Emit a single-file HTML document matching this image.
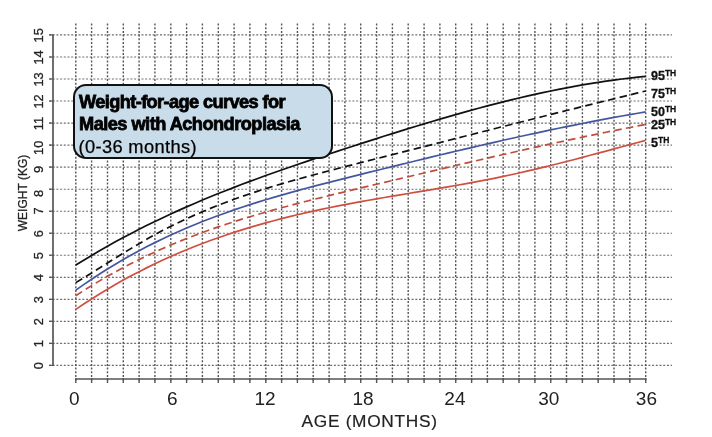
<!DOCTYPE html>
<html><head><meta charset="utf-8"><style>
html,body{margin:0;padding:0;background:#fff;width:712px;height:437px;overflow:hidden}
#wrap{position:absolute;left:0;top:0;width:712px;height:437px;filter:blur(0.4px)}
svg{position:absolute;left:0;top:0}
.g{stroke:#6e6e6e;stroke-width:1.15;stroke-dasharray:2 1.7;fill:none}
.gv{stroke:#555;stroke-width:1.4}
.ax{stroke:#555;stroke-width:1.7;fill:none}
.tk{stroke:#555;stroke-width:1.3}
.c{fill:none;stroke-width:1.7}
text{font-family:"Liberation Sans",sans-serif;fill:#222}
.yl{font-size:12.8px;text-anchor:middle;stroke:#222;stroke-width:0.3px}
.xl{font-size:19px;text-anchor:middle}
#box{position:absolute;left:73px;top:84px;width:256px;height:71px;border:2px solid #111;border-radius:13px;background:#c9dcea;font-family:"Liberation Sans",sans-serif;color:#000}
#box .b{position:absolute;left:4px;font-weight:bold;font-size:18.2px;line-height:20px;white-space:nowrap;letter-spacing:-0.6px;-webkit-text-stroke:0.8px #000}
#box .r{position:absolute;left:3.5px;font-size:18.3px;line-height:20px;white-space:nowrap;letter-spacing:0.35px;-webkit-text-stroke:0.25px #000}
.lab{position:absolute;font-family:"Liberation Sans",sans-serif;font-weight:bold;font-size:12.5px;color:#111;white-space:nowrap;-webkit-text-stroke:0.3px #111}
.lab sup{font-size:8.5px;vertical-align:0;position:relative;top:-4px}
</style></head><body><div id="wrap">
<svg width="712" height="437" viewBox="0 0 712 437">
<line x1="49" y1="365.4" x2="672" y2="365.4" class="g"/>
<line x1="49" y1="343.4" x2="672" y2="343.4" class="g"/>
<line x1="49" y1="321.3" x2="672" y2="321.3" class="g"/>
<line x1="49" y1="299.3" x2="672" y2="299.3" class="g"/>
<line x1="49" y1="277.3" x2="672" y2="277.3" class="g"/>
<line x1="49" y1="255.2" x2="672" y2="255.2" class="g"/>
<line x1="49" y1="233.2" x2="672" y2="233.2" class="g"/>
<line x1="49" y1="211.2" x2="672" y2="211.2" class="g"/>
<line x1="49" y1="189.2" x2="672" y2="189.2" class="g"/>
<line x1="49" y1="167.1" x2="672" y2="167.1" class="g"/>
<line x1="49" y1="145.1" x2="672" y2="145.1" class="g"/>
<line x1="49" y1="123.1" x2="672" y2="123.1" class="g"/>
<line x1="49" y1="101.0" x2="672" y2="101.0" class="g"/>
<line x1="49" y1="79.0" x2="672" y2="79.0" class="g"/>
<line x1="49" y1="57.0" x2="672" y2="57.0" class="g"/>
<line x1="49" y1="34.9" x2="672" y2="34.9" class="g"/>
<line x1="75.8" y1="23.5" x2="75.8" y2="383" class="g gv"/>
<line x1="91.6" y1="23.5" x2="91.6" y2="383" class="g gv"/>
<line x1="107.5" y1="23.5" x2="107.5" y2="383" class="g gv"/>
<line x1="123.3" y1="23.5" x2="123.3" y2="383" class="g gv"/>
<line x1="139.1" y1="23.5" x2="139.1" y2="383" class="g gv"/>
<line x1="154.9" y1="23.5" x2="154.9" y2="383" class="g gv"/>
<line x1="170.8" y1="23.5" x2="170.8" y2="383" class="g gv"/>
<line x1="186.6" y1="23.5" x2="186.6" y2="383" class="g gv"/>
<line x1="202.4" y1="23.5" x2="202.4" y2="383" class="g gv"/>
<line x1="218.3" y1="23.5" x2="218.3" y2="383" class="g gv"/>
<line x1="234.1" y1="23.5" x2="234.1" y2="383" class="g gv"/>
<line x1="249.9" y1="23.5" x2="249.9" y2="383" class="g gv"/>
<line x1="265.8" y1="23.5" x2="265.8" y2="383" class="g gv"/>
<line x1="281.6" y1="23.5" x2="281.6" y2="383" class="g gv"/>
<line x1="297.4" y1="23.5" x2="297.4" y2="383" class="g gv"/>
<line x1="313.2" y1="23.5" x2="313.2" y2="383" class="g gv"/>
<line x1="329.1" y1="23.5" x2="329.1" y2="383" class="g gv"/>
<line x1="344.9" y1="23.5" x2="344.9" y2="383" class="g gv"/>
<line x1="360.7" y1="23.5" x2="360.7" y2="383" class="g gv"/>
<line x1="376.6" y1="23.5" x2="376.6" y2="383" class="g gv"/>
<line x1="392.4" y1="23.5" x2="392.4" y2="383" class="g gv"/>
<line x1="408.2" y1="23.5" x2="408.2" y2="383" class="g gv"/>
<line x1="424.1" y1="23.5" x2="424.1" y2="383" class="g gv"/>
<line x1="439.9" y1="23.5" x2="439.9" y2="383" class="g gv"/>
<line x1="455.7" y1="23.5" x2="455.7" y2="383" class="g gv"/>
<line x1="471.6" y1="23.5" x2="471.6" y2="383" class="g gv"/>
<line x1="487.4" y1="23.5" x2="487.4" y2="383" class="g gv"/>
<line x1="503.2" y1="23.5" x2="503.2" y2="383" class="g gv"/>
<line x1="519.0" y1="23.5" x2="519.0" y2="383" class="g gv"/>
<line x1="534.9" y1="23.5" x2="534.9" y2="383" class="g gv"/>
<line x1="550.7" y1="23.5" x2="550.7" y2="383" class="g gv"/>
<line x1="566.5" y1="23.5" x2="566.5" y2="383" class="g gv"/>
<line x1="582.4" y1="23.5" x2="582.4" y2="383" class="g gv"/>
<line x1="598.2" y1="23.5" x2="598.2" y2="383" class="g gv"/>
<line x1="614.0" y1="23.5" x2="614.0" y2="383" class="g gv"/>
<line x1="629.8" y1="23.5" x2="629.8" y2="383" class="g gv"/>
<line x1="645.7" y1="23.5" x2="645.7" y2="383" class="g gv"/>
<line x1="53" y1="34.5" x2="53" y2="366" class="ax"/>
<line x1="49.3" y1="365.4" x2="53" y2="365.4" class="tk"/>
<line x1="49.3" y1="343.4" x2="53" y2="343.4" class="tk"/>
<line x1="49.3" y1="321.3" x2="53" y2="321.3" class="tk"/>
<line x1="49.3" y1="299.3" x2="53" y2="299.3" class="tk"/>
<line x1="49.3" y1="277.3" x2="53" y2="277.3" class="tk"/>
<line x1="49.3" y1="255.2" x2="53" y2="255.2" class="tk"/>
<line x1="49.3" y1="233.2" x2="53" y2="233.2" class="tk"/>
<line x1="49.3" y1="211.2" x2="53" y2="211.2" class="tk"/>
<line x1="49.3" y1="189.2" x2="53" y2="189.2" class="tk"/>
<line x1="49.3" y1="167.1" x2="53" y2="167.1" class="tk"/>
<line x1="49.3" y1="145.1" x2="53" y2="145.1" class="tk"/>
<line x1="49.3" y1="123.1" x2="53" y2="123.1" class="tk"/>
<line x1="49.3" y1="101.0" x2="53" y2="101.0" class="tk"/>
<line x1="49.3" y1="79.0" x2="53" y2="79.0" class="tk"/>
<line x1="49.3" y1="57.0" x2="53" y2="57.0" class="tk"/>
<line x1="49.3" y1="34.9" x2="53" y2="34.9" class="tk"/>
<line x1="75.8" y1="378" x2="75.8" y2="383" class="tk"/>
<line x1="91.6" y1="378" x2="91.6" y2="383" class="tk"/>
<line x1="107.5" y1="378" x2="107.5" y2="383" class="tk"/>
<line x1="123.3" y1="378" x2="123.3" y2="383" class="tk"/>
<line x1="139.1" y1="378" x2="139.1" y2="383" class="tk"/>
<line x1="154.9" y1="378" x2="154.9" y2="383" class="tk"/>
<line x1="170.8" y1="378" x2="170.8" y2="383" class="tk"/>
<line x1="186.6" y1="378" x2="186.6" y2="383" class="tk"/>
<line x1="202.4" y1="378" x2="202.4" y2="383" class="tk"/>
<line x1="218.3" y1="378" x2="218.3" y2="383" class="tk"/>
<line x1="234.1" y1="378" x2="234.1" y2="383" class="tk"/>
<line x1="249.9" y1="378" x2="249.9" y2="383" class="tk"/>
<line x1="265.8" y1="378" x2="265.8" y2="383" class="tk"/>
<line x1="281.6" y1="378" x2="281.6" y2="383" class="tk"/>
<line x1="297.4" y1="378" x2="297.4" y2="383" class="tk"/>
<line x1="313.2" y1="378" x2="313.2" y2="383" class="tk"/>
<line x1="329.1" y1="378" x2="329.1" y2="383" class="tk"/>
<line x1="344.9" y1="378" x2="344.9" y2="383" class="tk"/>
<line x1="360.7" y1="378" x2="360.7" y2="383" class="tk"/>
<line x1="376.6" y1="378" x2="376.6" y2="383" class="tk"/>
<line x1="392.4" y1="378" x2="392.4" y2="383" class="tk"/>
<line x1="408.2" y1="378" x2="408.2" y2="383" class="tk"/>
<line x1="424.1" y1="378" x2="424.1" y2="383" class="tk"/>
<line x1="439.9" y1="378" x2="439.9" y2="383" class="tk"/>
<line x1="455.7" y1="378" x2="455.7" y2="383" class="tk"/>
<line x1="471.6" y1="378" x2="471.6" y2="383" class="tk"/>
<line x1="487.4" y1="378" x2="487.4" y2="383" class="tk"/>
<line x1="503.2" y1="378" x2="503.2" y2="383" class="tk"/>
<line x1="519.0" y1="378" x2="519.0" y2="383" class="tk"/>
<line x1="534.9" y1="378" x2="534.9" y2="383" class="tk"/>
<line x1="550.7" y1="378" x2="550.7" y2="383" class="tk"/>
<line x1="566.5" y1="378" x2="566.5" y2="383" class="tk"/>
<line x1="582.4" y1="378" x2="582.4" y2="383" class="tk"/>
<line x1="598.2" y1="378" x2="598.2" y2="383" class="tk"/>
<line x1="614.0" y1="378" x2="614.0" y2="383" class="tk"/>
<line x1="629.8" y1="378" x2="629.8" y2="383" class="tk"/>
<line x1="645.7" y1="378" x2="645.7" y2="383" class="tk"/>
<line x1="75.1" y1="379" x2="646.4" y2="379" class="ax"/>
<text transform="translate(43.0 365.8) rotate(-90)" class="yl">0</text>
<text transform="translate(43.0 343.8) rotate(-90)" class="yl">1</text>
<text transform="translate(43.0 321.7) rotate(-90)" class="yl">2</text>
<text transform="translate(43.0 299.7) rotate(-90)" class="yl">3</text>
<text transform="translate(43.0 277.7) rotate(-90)" class="yl">4</text>
<text transform="translate(43.0 255.6) rotate(-90)" class="yl">5</text>
<text transform="translate(43.0 233.6) rotate(-90)" class="yl">6</text>
<text transform="translate(43.0 210.9) rotate(-90)" class="yl">7</text>
<text transform="translate(43.0 193.5) rotate(-90)" class="yl">8</text>
<text transform="translate(43.0 169.5) rotate(-90)" class="yl">9</text>
<text transform="translate(43.0 147.8) rotate(-90)" class="yl">10</text>
<text transform="translate(43.0 123.5) rotate(-90)" class="yl">11</text>
<text transform="translate(43.0 101.4) rotate(-90)" class="yl">12</text>
<text transform="translate(43.0 79.4) rotate(-90)" class="yl">13</text>
<text transform="translate(43.0 57.4) rotate(-90)" class="yl">14</text>
<text transform="translate(43.0 35.3) rotate(-90)" class="yl">15</text>
<text x="74.2" y="405" class="xl">0</text>
<text x="172.3" y="405" class="xl">6</text>
<text x="265.1" y="405" class="xl">12</text>
<text x="363.0" y="405" class="xl">18</text>
<text x="454.9" y="405" class="xl">24</text>
<text x="548.7" y="405" class="xl">30</text>
<text x="646.4" y="405" class="xl">36</text>
<path d="M75.80 309.39 L83.72 304.08 L91.63 298.94 L99.55 293.98 L107.46 289.18 L115.38 284.56 L123.29 280.09 L131.20 275.78 L139.12 271.63 L147.03 267.63 L154.95 263.77 L162.87 260.06 L170.78 256.48 L178.69 253.04 L186.61 249.73 L194.52 246.54 L202.44 243.47 L210.36 240.53 L218.27 237.70 L226.19 234.97 L234.10 232.36 L242.01 229.84 L249.93 227.43 L257.84 225.11 L265.76 222.88 L273.68 220.73 L281.59 218.67 L289.50 216.68 L297.42 214.77 L305.33 212.93 L313.25 211.15 L321.17 209.44 L329.08 207.78 L337.00 206.18 L344.91 204.63 L352.82 203.13 L360.74 201.66 L368.66 200.24 L376.57 198.85 L384.49 197.48 L392.40 196.14 L400.31 194.81 L408.23 193.49 L416.15 192.18 L424.06 190.86 L431.98 189.54 L439.89 188.21 L447.81 186.86 L455.72 185.48 L463.63 184.08 L471.55 182.64 L479.47 181.16 L487.38 179.64 L495.30 178.07 L503.21 176.43 L511.12 174.74 L519.04 172.99 L526.96 171.19 L534.87 169.33 L542.78 167.43 L550.70 165.49 L558.62 163.51 L566.53 161.50 L574.44 159.46 L582.36 157.39 L590.27 155.30 L598.19 153.19 L606.10 151.07 L614.02 148.94 L621.93 146.80 L629.85 144.66 L637.76 142.53 L645.68 140.40" stroke="#cf5040"  class="c"/>
<path d="M75.80 295.69 L83.72 290.57 L91.63 285.63 L99.55 280.87 L107.46 276.27 L115.38 271.85 L123.29 267.58 L131.20 263.46 L139.12 259.49 L147.03 255.67 L154.95 251.99 L162.87 248.44 L170.78 245.02 L178.69 241.72 L186.61 238.55 L194.52 235.48 L202.44 232.52 L210.36 229.67 L218.27 226.91 L226.19 224.25 L234.10 221.67 L242.01 219.17 L249.93 216.75 L257.84 214.40 L265.76 212.12 L273.68 209.90 L281.59 207.74 L289.50 205.63 L297.42 203.56 L305.33 201.53 L313.25 199.54 L321.17 197.58 L329.08 195.64 L337.00 193.73 L344.91 191.82 L352.82 189.93 L360.74 188.04 L368.66 186.15 L376.57 184.26 L384.49 182.38 L392.40 180.49 L400.31 178.60 L408.23 176.72 L416.15 174.84 L424.06 172.96 L431.98 171.09 L439.89 169.22 L447.81 167.36 L455.72 165.50 L463.63 163.65 L471.55 161.81 L479.47 159.97 L487.38 158.15 L495.30 156.33 L503.21 154.52 L511.12 152.73 L519.04 150.94 L526.96 149.17 L534.87 147.41 L542.78 145.66 L550.70 143.93 L558.62 142.21 L566.53 140.50 L574.44 138.82 L582.36 137.14 L590.27 135.49 L598.19 133.85 L606.10 132.23 L614.02 130.63 L621.93 129.05 L629.85 127.49 L637.76 125.95 L645.68 124.44" stroke="#c04c3e" stroke-dasharray="7.5 4.3" class="c"/>
<path d="M75.80 290.17 L83.72 284.59 L91.63 279.21 L99.55 274.02 L107.46 269.01 L115.38 264.19 L123.29 259.55 L131.20 255.08 L139.12 250.77 L147.03 246.62 L154.95 242.63 L162.87 238.78 L170.78 235.08 L178.69 231.51 L186.61 228.08 L194.52 224.77 L202.44 221.58 L210.36 218.51 L218.27 215.55 L226.19 212.68 L234.10 209.92 L242.01 207.25 L249.93 204.66 L257.84 202.16 L265.76 199.73 L273.68 197.37 L281.59 195.08 L289.50 192.84 L297.42 190.66 L305.33 188.52 L313.25 186.43 L321.17 184.37 L329.08 182.34 L337.00 180.33 L344.91 178.35 L352.82 176.38 L360.74 174.41 L368.66 172.45 L376.57 170.49 L384.49 168.54 L392.40 166.59 L400.31 164.65 L408.23 162.71 L416.15 160.78 L424.06 158.86 L431.98 156.95 L439.89 155.04 L447.81 153.15 L455.72 151.27 L463.63 149.40 L471.55 147.55 L479.47 145.71 L487.38 143.88 L495.30 142.08 L503.21 140.28 L511.12 138.51 L519.04 136.75 L526.96 135.02 L534.87 133.30 L542.78 131.61 L550.70 129.93 L558.62 128.28 L566.53 126.66 L574.44 125.06 L582.36 123.48 L590.27 121.93 L598.19 120.41 L606.10 118.92 L614.02 117.45 L621.93 116.02 L629.85 114.61 L637.76 113.24 L645.68 111.90" stroke="#4556a0"  class="c"/>
<path d="M75.80 282.62 L83.72 277.82 L91.63 272.95 L99.55 268.02 L107.46 263.06 L115.38 258.12 L123.29 253.22 L131.20 248.39 L139.12 243.66 L147.03 239.06 L154.95 234.63 L162.87 230.37 L170.78 226.30 L178.69 222.41 L186.61 218.68 L194.52 215.11 L202.44 211.68 L210.36 208.40 L218.27 205.24 L226.19 202.21 L234.10 199.30 L242.01 196.49 L249.93 193.78 L257.84 191.17 L265.76 188.65 L273.68 186.20 L281.59 183.83 L289.50 181.53 L297.42 179.29 L305.33 177.10 L313.25 174.96 L321.17 172.86 L329.08 170.79 L337.00 168.74 L344.91 166.72 L352.82 164.70 L360.74 162.69 L368.66 160.68 L376.57 158.67 L384.49 156.66 L392.40 154.65 L400.31 152.63 L408.23 150.62 L416.15 148.60 L424.06 146.58 L431.98 144.57 L439.89 142.55 L447.81 140.54 L455.72 138.52 L463.63 136.51 L471.55 134.50 L479.47 132.49 L487.38 130.48 L495.30 128.47 L503.21 126.46 L511.12 124.46 L519.04 122.46 L526.96 120.47 L534.87 118.47 L542.78 116.48 L550.70 114.49 L558.62 112.51 L566.53 110.53 L574.44 108.56 L582.36 106.59 L590.27 104.63 L598.19 102.67 L606.10 100.71 L614.02 98.76 L621.93 96.82 L629.85 94.88 L637.76 92.95 L645.68 91.03" stroke="#111" stroke-dasharray="7.5 4.3" class="c"/>
<path d="M75.80 265.06 L83.72 260.17 L91.63 255.41 L99.55 250.77 L107.46 246.25 L115.38 241.85 L123.29 237.56 L131.20 233.38 L139.12 229.30 L147.03 225.33 L154.95 221.46 L162.87 217.68 L170.78 213.99 L178.69 210.39 L186.61 206.87 L194.52 203.44 L202.44 200.08 L210.36 196.80 L218.27 193.58 L226.19 190.44 L234.10 187.35 L242.01 184.33 L249.93 181.36 L257.84 178.44 L265.76 175.57 L273.68 172.75 L281.59 169.97 L289.50 167.22 L297.42 164.51 L305.33 161.83 L313.25 159.18 L321.17 156.55 L329.08 153.94 L337.00 151.35 L344.91 148.77 L352.82 146.20 L360.74 143.64 L368.66 141.10 L376.57 138.57 L384.49 136.06 L392.40 133.57 L400.31 131.10 L408.23 128.65 L416.15 126.23 L424.06 123.83 L431.98 121.47 L439.89 119.14 L447.81 116.84 L455.72 114.58 L463.63 112.36 L471.55 110.17 L479.47 108.03 L487.38 105.93 L495.30 103.88 L503.21 101.88 L511.12 99.93 L519.04 98.03 L526.96 96.18 L534.87 94.39 L542.78 92.66 L550.70 90.99 L558.62 89.38 L566.53 87.84 L574.44 86.36 L582.36 84.95 L590.27 83.62 L598.19 82.35 L606.10 81.16 L614.02 80.05 L621.93 79.02 L629.85 78.07 L637.76 77.20 L645.68 76.41" stroke="#111"  class="c"/>
<text x="24" y="193" transform="rotate(-90 24 193)" style="font-size:12px;text-anchor:middle;dominant-baseline:middle;stroke:#222;stroke-width:0.25px">WEIGHT (KG)</text>
<text x="369.6" y="426.7" style="font-size:17.3px;text-anchor:middle;letter-spacing:0.7px;stroke:#222;stroke-width:0.2px">AGE (MONTHS)</text>
</svg>
<div id="box">
<div class="b" style="top:5.5px">Weight-for-age curves for</div>
<div class="b" style="top:28px;letter-spacing:-0.52px">Males with Achondroplasia</div>
<div class="r" style="top:51px">(0-36 months)</div>
</div>
<div class="lab" style="left:651px;top:68.5px">95<sup>TH</sup></div>
<div class="lab" style="left:651px;top:86.5px">75<sup>TH</sup></div>
<div class="lab" style="left:651px;top:104.5px">50<sup>TH</sup></div>
<div class="lab" style="left:651px;top:117.5px">25<sup>TH</sup></div>
<div class="lab" style="left:651px;top:135.5px">5<sup>TH</sup></div>
</div></body></html>
